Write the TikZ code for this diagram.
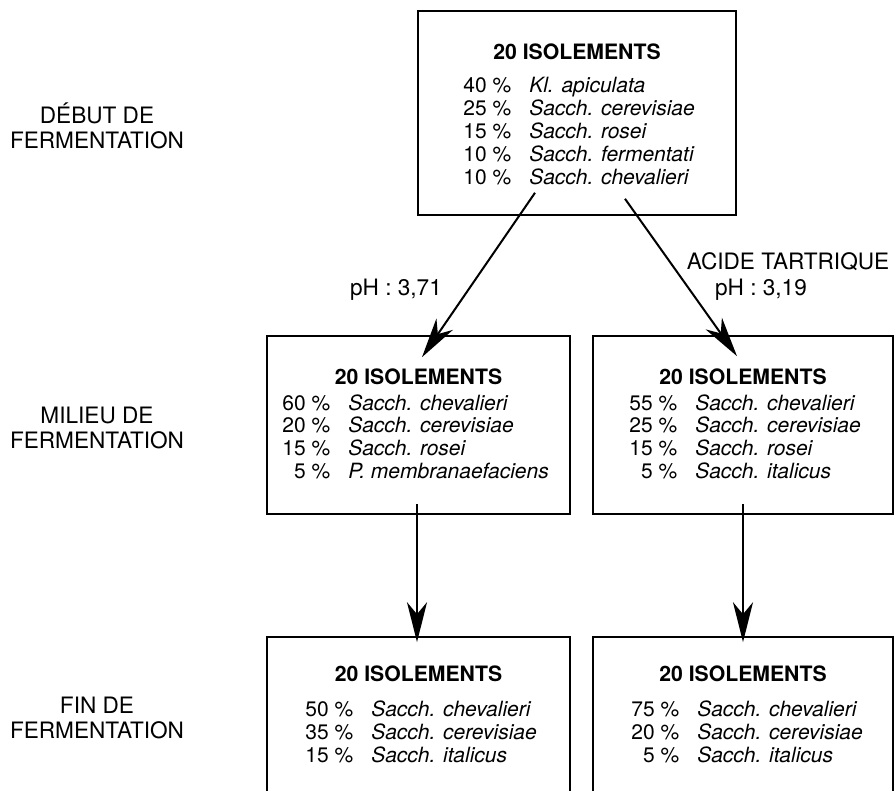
\documentclass[tikz,border=0pt]{standalone}
\usepackage{fontspec}
\setmainfont{TeX Gyre Heros}
\usetikzlibrary{arrows.meta, positioning, calc}

\begin{document}
\begin{tikzpicture}[x=0.5pt, y=-0.5pt]
			% Define style
			\tikzset{
				isobox/.style={rectangle, draw=black, line width=0.8pt, inner sep=0pt},
				title/.style={inner sep=0pt, font=\fontsize{10.6}{12}\selectfont\bfseries},
				counts/.style={inner sep=0pt, anchor=base west, font=\fontsize{10.5}{11.5}\selectfont},
				stage/.style={inner sep=0pt, align=center, font=\fontsize{11.3}{12.5}\selectfont},
				cond/.style={inner sep=0pt, font=\fontsize{11.3}{12.5}\selectfont},
				arrow/.style={line width=1pt, -{Stealth[length=20pt, width=10pt, inset=6pt]}}
			}
			\clip (0,0) rectangle (895,791);
			
			% Define blocks
			\node (top) [isobox, minimum width=159pt, minimum height=102pt] at (577,113) {};
			\node (midL) [isobox, minimum width=151.5pt, minimum height=89pt] at (418.5,425) {};
			\node (midR) [isobox, minimum width=150pt, minimum height=89pt] at (743,425) {};
			\node (endL) [isobox, minimum width=151.5pt, minimum height=100pt] at (418.5,737) {};
			\node (endR) [isobox, minimum width=150pt, minimum height=100pt] at (743,737) {};
			
			% Titles
			\node (topT) [title, below=16.5pt of top.north] {20 ISOLEMENTS};
			\node (midLT) [title, below=16.5pt of midL.north] {20 ISOLEMENTS};
			\node (midRT) [title, below=16.5pt of midR.north] {20 ISOLEMENTS};
			\node (endLT) [title, below=14.5pt of endL.north] {20 ISOLEMENTS};
			\node (endRT) [title, below=14.5pt of endR.north] {20 ISOLEMENTS};
			
			% Counts
			\node (topL) [counts] at (463,93) {\begin{tabular}[t]{@{}r@{\hspace{9pt}}l@{}}
				40~\% & \textit{Kl. apiculata}\\
				25~\% & \textit{Sacch. cerevisiae}\\
				15~\% & \textit{Sacch. rosei}\\
				10~\% & \textit{Sacch. fermentati}\\
				10~\% & \textit{Sacch. chevalieri}
			\end{tabular}};
			\node (midLL) [counts] at (282,410) {\begin{tabular}[t]{@{}r@{\hspace{9pt}}l@{}}
				60~\% & \textit{Sacch. chevalieri}\\
				20~\% & \textit{Sacch. cerevisiae}\\
				15~\% & \textit{Sacch. rosei}\\
				5~\% & \textit{P. membranaefaciens}
			\end{tabular}};
			\node (midRL) [counts] at (629,410) {\begin{tabular}[t]{@{}r@{\hspace{9pt}}l@{}}
				55~\% & \textit{Sacch. chevalieri}\\
				25~\% & \textit{Sacch. cerevisiae}\\
				15~\% & \textit{Sacch. rosei}\\
				5~\% & \textit{Sacch. italicus}
			\end{tabular}};
			\node (endLL) [counts] at (305,716) {\begin{tabular}[t]{@{}r@{\hspace{9pt}}l@{}}
				50~\% & \textit{Sacch. chevalieri}\\
				35~\% & \textit{Sacch. cerevisiae}\\
				15~\% & \textit{Sacch. italicus}
			\end{tabular}};
			\node (endRL) [counts] at (631,716) {\begin{tabular}[t]{@{}r@{\hspace{9pt}}l@{}}
				75~\% & \textit{Sacch. chevalieri}\\
				20~\% & \textit{Sacch. cerevisiae}\\
				5~\% & \textit{Sacch. italicus}
			\end{tabular}};
			
			% Stages and conditions
			\node (s1) [stage] at (97,126) {DÉBUT DE\\FERMENTATION};
			\node (s2) [stage] at (97,428) {MILIEU DE\\FERMENTATION};
			\node (s3) [stage] at (97,718) {FIN DE\\FERMENTATION};
			\node (ph1) [cond] at (396,290) {pH : 3,71};
			\node (acid) [cond] at (788,262) {ACIDE TARTRIQUE};
			\node (ph2) [cond] at (761,290) {pH : 3,19};
			
			% Define arrows
			\draw [arrow] ($(top.south)+(-42,-23)$) -- ($(midL.north)+(3.5,22)$);
			\draw [arrow] ($(top.south)+(48,-17)$) -- ($(midR.north)+(-6,21)$);
			\draw [arrow] ($(midL.south)+(-1.5,-11)$) -- ($(endL.north)+(-1.5,6)$);
			\draw [arrow] ($(midR.south)+(0,-11)$) -- ($(endR.north)+(0,6)$);
\end{tikzpicture}
\end{document}
